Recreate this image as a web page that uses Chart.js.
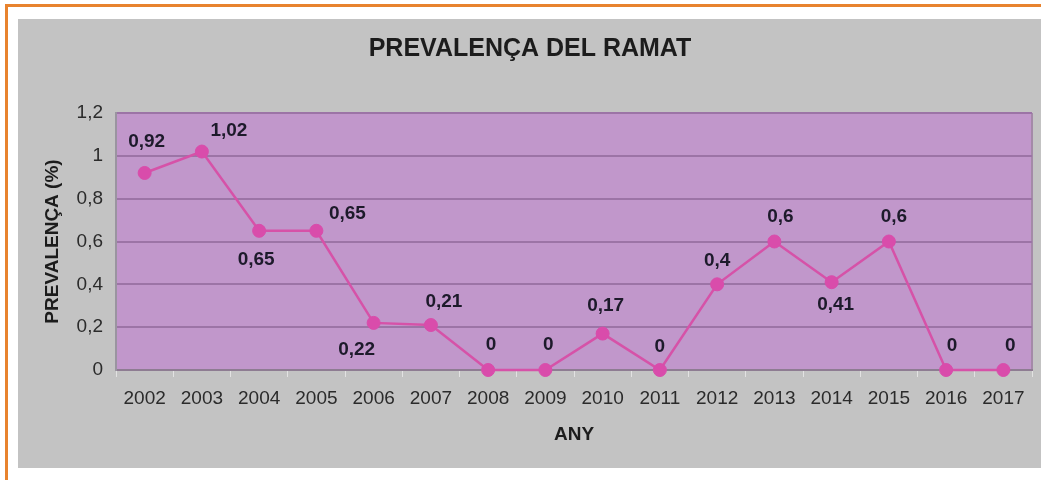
<!DOCTYPE html>
<html>
<head>
<meta charset="utf-8">
<script src="https://cdn.jsdelivr.net/npm/chart.js@4.4.0/dist/chart.umd.min.js"></script>
<style>
  html, body { margin: 0; padding: 0; background: #ffffff; }
  #wrap { width: 1041px; height: 480px; }
</style>
</head>
<body>
<div id="wrap"><canvas id="c" width="1041" height="480"></canvas></div>
<script>
// ---- data ----
const years = ['2002','2003','2004','2005','2006','2007','2008','2009','2010','2011','2012','2013','2014','2015','2016','2017'];
const prevalence = [0.92, 1.02, 0.65, 0.65, 0.22, 0.21, 0, 0, 0.17, 0, 0.4, 0.6, 0.41, 0.6, 0, 0];
const yTickLabels = ['0', '0,2', '0,4', '0,6', '0,8', '1', '1,2'];
const chartTitle = 'PREVALENÇA DEL RAMAT';
const xTitle = 'ANY';
const yTitle = 'PREVALENÇA (%)';

// label placement relative to each point (style only)
const labelOffsets = [
  [2,-31],[27,-21],[-3,29],[31,-17],[-17,27],[13,-23],[3,-25],[3,-25],
  [3,-28],[0,-23],[0,-24],[6,-25],[4,23],[5,-25],[6,-24],[7,-24]
];

const FONT = '"Liberation Sans", Arial, Helvetica, sans-serif';

const backgroundPlugin = {
  id: 'bg',
  beforeDraw(chart) {
    const ctx = chart.ctx;
    const a = chart.chartArea;
    ctx.save();
    ctx.fillStyle = '#ffffff';
    ctx.fillRect(0, 0, chart.width, chart.height);
    // orange frame
    ctx.fillStyle = '#E8832E';
    ctx.fillRect(5, 4, chart.width - 5, 3);
    ctx.fillRect(5, 4, 3, chart.height - 4);
    // grey panel
    ctx.fillStyle = '#C3C3C3';
    ctx.fillRect(18, 19, chart.width - 18, 468 - 19);
    // plot area
    ctx.fillStyle = '#C197CB';
    ctx.fillRect(a.left, a.top, a.right - a.left, a.bottom - a.top);
    // right edge line of plot
    ctx.strokeStyle = '#A48AA8';
    ctx.lineWidth = 2;
    ctx.beginPath();
    ctx.moveTo(a.right, a.top);
    ctx.lineTo(a.right, a.bottom);
    ctx.stroke();
    // title
    ctx.fillStyle = '#1c1c1c';
    ctx.font = 'bold 25px ' + FONT;
    ctx.textAlign = 'center';
    ctx.textBaseline = 'middle';
    ctx.fillText(chartTitle, 530, 49);
    ctx.restore();
  }
};

const labelPlugin = {
  id: 'pointLabels',
  afterDatasetsDraw(chart) {
    const ctx = chart.ctx;
    const meta = chart.getDatasetMeta(0);
    ctx.save();
    ctx.fillStyle = '#1d1a2b';
    ctx.font = 'bold 19px ' + FONT;
    ctx.textAlign = 'center';
    ctx.textBaseline = 'middle';
    meta.data.forEach((pt, i) => {
      const txt = String(prevalence[i]).replace('.', ',');
      const off = labelOffsets[i];
      ctx.fillText(txt, pt.x + off[0], pt.y + off[1]);
    });
    ctx.restore();
  }
};

new Chart(document.getElementById('c'), {
  type: 'line',
  data: {
    labels: years,
    datasets: [{
      data: prevalence,
      clip: false,
      borderColor: '#D652A8',
      borderWidth: 2.5,
      backgroundColor: '#D94CAB',
      pointBackgroundColor: '#D94CAB',
      pointBorderColor: '#D94CAB',
      pointRadius: 6.5,
      pointBorderWidth: 1,
      tension: 0,
      fill: false
    }]
  },
  options: {
    responsive: false,
    animation: false,
    layout: { padding: { left: 0, right: 9, top: 113, bottom: 0 } },
    plugins: {
      legend: { display: false },
      tooltip: { enabled: false },
      title: { display: false }
    },
    scales: {
      x: {
        type: 'category',
        offset: true,
        afterFit(s) { s.height = 110; },
        grid: {
          offset: true,
          drawOnChartArea: false,
          drawTicks: true,
          tickLength: 7,
          color: '#E2E2E2',
          lineWidth: 1
        },
        border: { display: true, color: '#8E7C92', width: 2 },
        ticks: {
          color: '#2b2b2b',
          padding: 10,
          maxRotation: 0,
          autoSkip: false,
          font: { family: FONT, size: 19, lineHeight: 1.2 }
        },
        title: {
          display: true,
          text: xTitle,
          color: '#1c1c1c',
          font: { family: FONT, size: 19, weight: 'bold', lineHeight: 1.2 },
          padding: { top: 0, bottom: 34 }
        }
      },
      y: {
        min: 0,
        max: 1.2,
        afterFit(s) { s.width = 116; },
        ticks: {
          stepSize: 0.2,
          color: '#2b2b2b',
          padding: 13,
          font: { family: FONT, size: 19, lineHeight: 1.2 },
          callback: (v, i) => yTickLabels[i]
        },
        grid: {
          drawTicks: false,
          color: '#9C74A6',
          lineWidth: 2
        },
        border: { display: true, color: '#9A94A0', width: 2 },
        title: {
          display: true,
          text: yTitle,
          color: '#1c1c1c',
          font: { family: FONT, size: 19, weight: 'bold', lineHeight: 1.2 },
          padding: { top: 41, bottom: 0 }
        }
      }
    }
  },
  plugins: [backgroundPlugin, labelPlugin]
});
</script>
</body>
</html>
